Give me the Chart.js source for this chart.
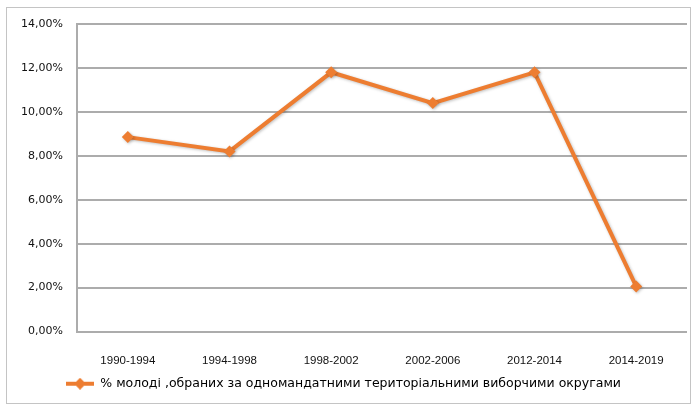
<!DOCTYPE html>
<html>
<head>
<meta charset="utf-8">
<script src="https://cdn.jsdelivr.net/npm/chart.js@4"></script>
<style>
  html, body { margin: 0; padding: 0; background: #fff; }
  #wrap { width: 695px; height: 406px; }
</style>
</head>
<body>
<div id="wrap"><canvas id="youthChart" width="695" height="406"></canvas></div>
<script>
// periods and share of young deputies (%)
const periods = ['1990-1994', '1994-1998', '1998-2002', '2002-2006', '2012-2014', '2014-2019'];
const youthShare = [8.85, 8.2, 11.8, 10.4, 11.8, 2.05];
const seriesName = '% молоді ,обраних за одномандатними територіальними виборчими округами';

const orange = '#ED7D31';
const gridGray = '#acacac';

// legend marker: line with a diamond
const legendIcon = document.createElement('canvas');
legendIcon.width = 28;
legendIcon.height = 12;
const ic = legendIcon.getContext('2d');
ic.strokeStyle = orange;
ic.lineWidth = 4;
ic.beginPath();
ic.moveTo(0, 6);
ic.lineTo(28, 6);
ic.stroke();
ic.fillStyle = orange;
ic.beginPath();
ic.moveTo(14, 0);
ic.lineTo(20, 6);
ic.lineTo(14, 12);
ic.lineTo(8, 6);
ic.closePath();
ic.fill();

// outer frame of the chart
const framePlugin = {
  id: 'frame',
  beforeDraw(chart) {
    const ctx = chart.ctx;
    ctx.save();
    ctx.fillStyle = '#fff';
    ctx.fillRect(0, 0, chart.width, chart.height);
    ctx.strokeStyle = '#c4c4c4';
    ctx.lineWidth = 1;
    ctx.strokeRect(6.5, 7.5, 684, 396);
    ctx.restore();
  },
  beforeDatasetsDraw(chart) {
    chart.ctx.save();
    chart.ctx.shadowColor = 'rgba(0,0,0,0.25)';
    chart.ctx.shadowBlur = 3;
    chart.ctx.shadowOffsetX = 1;
    chart.ctx.shadowOffsetY = 1;
  },
  afterDatasetsDraw(chart) {
    chart.ctx.restore();
  }
};

Chart.defaults.font.family = '"DejaVu Sans", sans-serif';
Chart.defaults.font.size = 11;
Chart.defaults.color = '#111';

const ctx = document.getElementById('youthChart').getContext('2d');
const youthChart = new Chart(ctx, {
  type: 'line',
  data: {
    labels: periods,
    datasets: [{
      label: seriesName,
      data: youthShare,
      borderColor: orange,
      backgroundColor: orange,
      borderWidth: 4,
      pointStyle: 'rectRot',
      pointRadius: 6,
      pointHoverRadius: 6,
      pointBorderWidth: 0,
      pointBackgroundColor: orange,
      tension: 0
    }]
  },
  options: {
    responsive: false,
    animation: false,
    layout: {
      padding: { left: 0, right: 8, top: 24, bottom: 6 }
    },
    plugins: {
      legend: {
        position: 'bottom',
        labels: {
          usePointStyle: true,
          pointStyleWidth: 28,
          padding: 10,
          color: '#111',
          font: { size: 12.5 },
          generateLabels(chart) {
            return [{
              text: seriesName,
              pointStyle: legendIcon,
              fillStyle: orange,
              strokeStyle: orange,
              lineWidth: 0,
              datasetIndex: 0
            }];
          }
        }
      },
      tooltip: { enabled: false }
    },
    scales: {
      x: {
        offset: true,
        grid: { display: false, offset: true },
        border: { display: false },
        ticks: { padding: 14, font: { family: '"Liberation Sans", sans-serif', size: 11.5 } },
        afterFit(scale) { scale.height = 36; }
      },
      y: {
        min: 0,
        max: 14,
        ticks: {
          stepSize: 2,
          padding: 14,
          callback: v => v.toFixed(2).replace('.', ',') + '%'
        },
        grid: { color: gridGray, lineWidth: 2, drawTicks: false },
        border: { display: true, color: gridGray, width: 2 },
        afterFit(scale) { scale.width = 77; }
      }
    }
  },
  plugins: [framePlugin]
});
</script>
</body>
</html>
